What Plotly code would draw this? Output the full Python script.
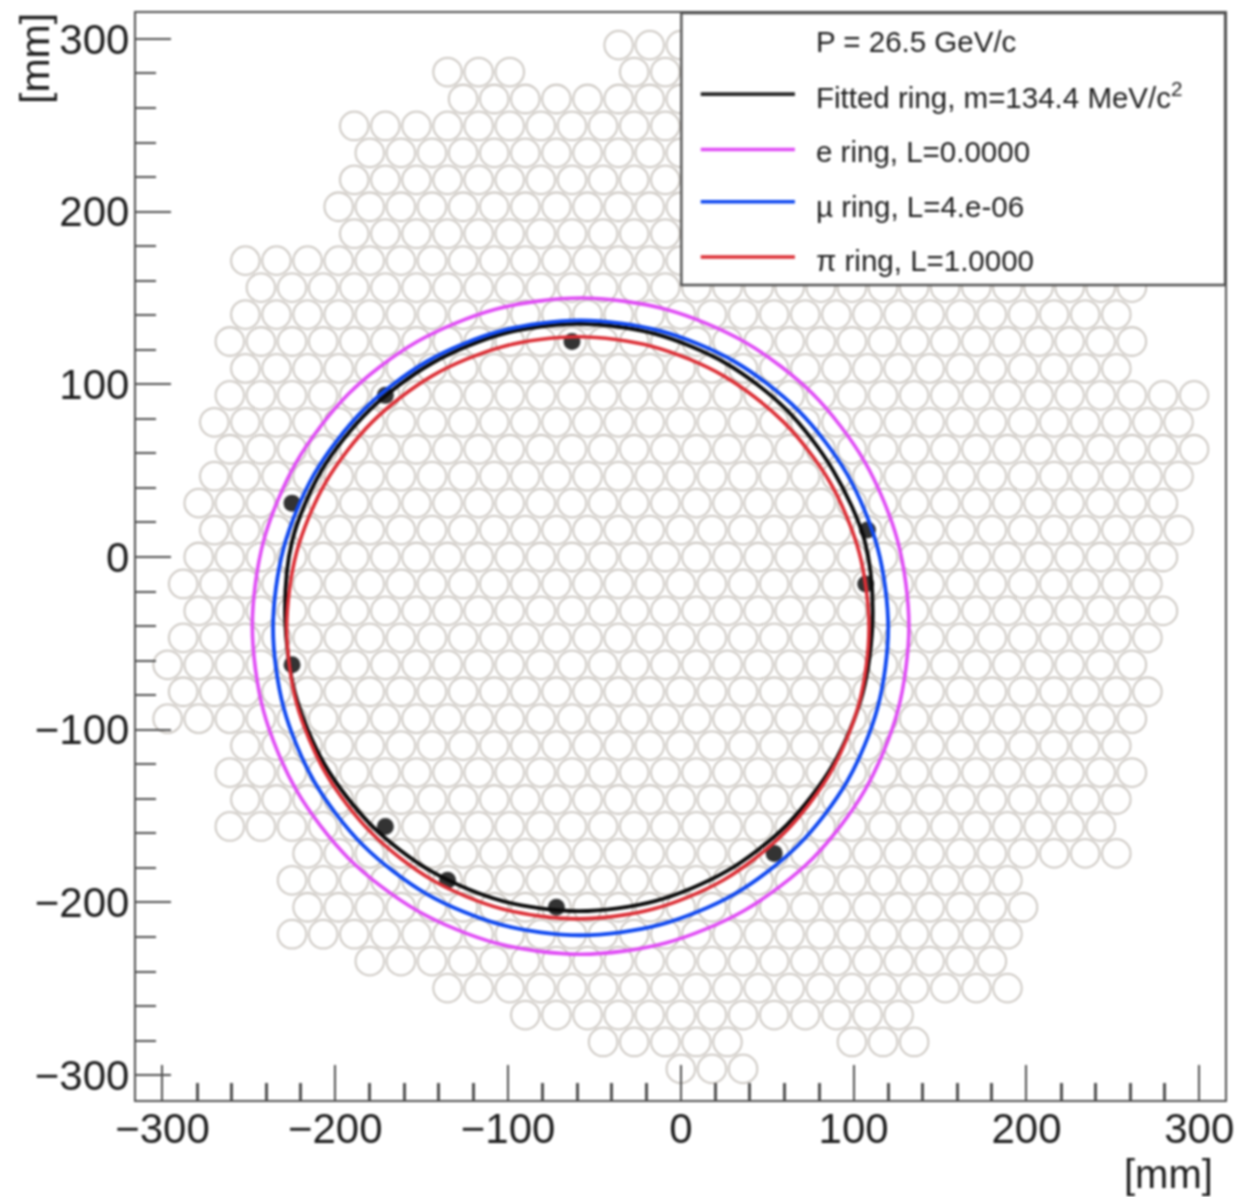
import plotly.graph_objects as go

# PMT lattice (mm): y of the row, first and last tube
ROW_Y = [296.4, 280.8, 280.8, 265.2, 249.6, 234.0, 218.4, 202.8, 187.2, 171.6, 156.0,
         140.4, 124.8, 109.2, 93.6, 78.0, 62.4, 46.8, 31.2, 15.6, 0.0,
         -15.6, -31.2, -46.8, -62.4, -78.0, -93.6, -109.2, -124.8, -140.4, -156.0,
         -171.6, -187.2, -202.8, -218.4, -234.0, -249.6, -265.2, -280.8, -280.8, -296.4]
ROW_START = [-36, -135, -27, -126, -189, -180, -189, -198, -189, -252, -243,
             -252, -261, -252, -261, -270, -261, -270, -279, -270, -279,
             -288, -279, -288, -297, -288, -297, -252, -261, -252, -261,
             -216, -225, -216, -225, -180, -135, -90, -45, 99, 0]
ROW_END = [0, -99, 45, 90, 135, 180, 225, 216, 225, 216, 261,
           252, 261, 252, 297, 288, 297, 288, 279, 288, 279,
           270, 279, 270, 261, 270, 261, 252, 261, 252, 243,
           252, 189, 198, 189, 180, 189, 126, 27, 135, 36]

HIT_X = [-63, -171, -225, 108, 107, -225, -171, -135, -72, 54]
HIT_Y = [124.8, 93.6, 31.2, 15.6, -15.6, -62.4, -156.0, -187.2, -202.8, -171.6]

FIT_X = [111, 106.5, 88.2, 61.2, 26, -15, -59, -103, -144, -180, -208, -225, -229,
         -223.2, -206.2, -179.2, -144, -103, -59, -15, 26, 61.2, 88.2, 105.2, 111]
FIT_Y = [-35, 9, 50, 85.2, 112.2, 129.2, 135, 129.2, 112.2, 85.2, 50, 9, -35,
         -79, -120, -155.2, -182.2, -199.2, -205, -199.2, -182.2, -155.2, -120, -79, -35]
E_X = [132, 125.5, 106.5, 76.4, 37, -8.8, -58, -107.2, -153, -192.4, -222.5, -241.5, -248,
       -241.5, -222.5, -192.4, -153, -107.2, -58, -8.8, 37, 76.4, 106.5, 125.5, 132]
E_Y = [-40, 9.2, 55, 94.4, 124.5, 143.5, 150, 143.5, 124.5, 94.4, 55, 9.2, -40,
       -89.2, -135, -174.4, -204.5, -223.5, -230, -223.5, -204.5, -174.4, -135, -89.2, -40]
MU_X = [120, 113.9, 96.2, 67.9, 31, -11.9, -58, -104.1, -147, -183.9, -212.2, -229.9, -236,
        -229.9, -212.2, -183.9, -147, -104.1, -58, -11.9, 31, 67.9, 96.2, 113.9, 120]
MU_Y = [-41, 5.1, 48, 84.9, 113.2, 130.9, 137, 130.9, 113.2, 84.9, 48, 5.1, -41,
        -87.1, -130, -166.9, -195.2, -212.9, -219, -212.9, -195.2, -166.9, -130, -87.1, -41]
PI_X = [108.9, 103.2, 86.3, 59.5, 24.7, -16, -59.6, -103.2, -143.9, -178.7, -205.5, -222.4, -228.1,
        -222.4, -205.5, -178.7, -143.9, -103.2, -59.6, -16, 24.7, 59.5, 86.3, 103.2, 108.9]
PI_Y = [-41, 2.6, 43.3, 78.1, 104.9, 121.8, 127.5, 121.8, 104.9, 78.1, 43.3, 2.6, -41,
        -84.6, -125.3, -160.1, -187, -203.8, -209.5, -203.8, -187, -160.1, -125.3, -84.6, -41]

LEGEND_TEXT = ["P = 26.5 GeV/c", "Fitted ring, m=134.4 MeV/c<sup>2</sup>",
               "e ring, L=0.0000", "µ ring, L=4.e-06", "π ring, L=1.0000"]
LEGEND_COLOR = [None, "#262626", "#e04cf5", "#0f48f0", "#dc2f36"]
LEGEND_TEXT_Y = [298.5, 267, 235, 203, 171.5]
LEGEND_LINE_Y = [None, 268, 236, 205.7, 173.7]

INK = "#1e1e1e"
AXIS = "#505050"
FONT = "Liberation Sans"

tube_x, tube_y = [], []
for y, a, b in zip(ROW_Y, ROW_START, ROW_END):
    for x in range(a, b + 1, 18):
        tube_x.append(x)
        tube_y.append(y)

fig = go.Figure()
fig.add_trace(go.Scatter(
    x=tube_x, y=tube_y, mode="markers", name="PMT", cliponaxis=True,
    marker=dict(symbol="circle-open", size=28.5, color="#c9c4be", line=dict(width=1.8, color="#c9c4be")),
))
fig.add_trace(go.Scatter(
    x=HIT_X, y=HIT_Y, mode="markers", name="hits",
    marker=dict(symbol="circle", size=17, color="#333333"),
))
for name, xs, ys, color, w in [
    ("Fitted ring", FIT_X, FIT_Y, "#0a0a0a", 3.8),
    ("e ring", E_X, E_Y, "#e04cf5", 3.6),
    ("µ ring", MU_X, MU_Y, "#0f48f0", 3.8),
    ("π ring", PI_X, PI_Y, "#dc2f36", 3.6),
]:
    fig.add_trace(go.Scatter(x=xs, y=ys, mode="lines", name=name,
                             line=dict(color=color, width=w, shape="spline", smoothing=0.9)))

# boxed key in the upper right of the frame
fig.add_shape(type="rect", x0=0.3, x1=315, y0=157.5, y1=315, layer="above",
              fillcolor="white", line=dict(color=AXIS, width=2.4))
for text, color, ty, ly in zip(LEGEND_TEXT, LEGEND_COLOR, LEGEND_TEXT_Y, LEGEND_LINE_Y):
    if color:
        fig.add_shape(type="line", x0=11.5, x1=66, y0=ly, y1=ly, layer="above",
                      line=dict(color=color, width=3.6))
    fig.add_annotation(x=77, y=ty, text=text, showarrow=False, xanchor="left", yanchor="middle",
                       font=dict(family=FONT, size=29.5, color=INK))

fig.add_annotation(xref="paper", yref="paper", x=(1215 - 136) / 1089, y=-(1174 - 1100) / 1087,
                   text="[mm]", showarrow=False, xanchor="right", yanchor="middle",
                   font=dict(family=FONT, size=40, color=INK))
fig.add_annotation(xref="paper", yref="paper", x=(35 - 136) / 1089, y=1 - (59 - 13) / 1087,
                   text="[mm]", textangle=-90, showarrow=False, xanchor="center", yanchor="middle",
                   font=dict(family=FONT, size=41, color=INK))

axis = dict(showgrid=False, zeroline=False, showline=True, mirror=True, linecolor=AXIS, linewidth=2.4,
            ticks="inside", tickcolor=AXIS, tickwidth=2, tick0=0, dtick=100, automargin=False,
            tickfont=dict(family=FONT, size=42, color=INK))
fig.update_xaxes(range=[-315.3, 314.9], ticklen=35, ticklabelstandoff=-10,
                 minor=dict(ticks="inside", ticklen=17, dtick=20, tick0=0, tickcolor=AXIS, tickwidth=2.5, showgrid=False),
                 **axis)
fig.update_yaxes(range=[-314.4, 315], ticklen=35, ticklabelstandoff=-4,
                 minor=dict(ticks="inside", ticklen=20, dtick=20, tick0=0, tickcolor=AXIS, tickwidth=2, showgrid=False),
                 **axis)
fig.update_layout(width=1235, height=1197, autosize=False, showlegend=False,
                  paper_bgcolor="white", plot_bgcolor="white",
                  margin=dict(l=136, r=10, t=13, b=97, pad=0))

fig.write_html("out.html", config={"displayModeBar": False},
               post_script="document.body.style.margin='0';"
                           "document.querySelector('.plotly-graph-div').style.filter='blur(1px)';")
